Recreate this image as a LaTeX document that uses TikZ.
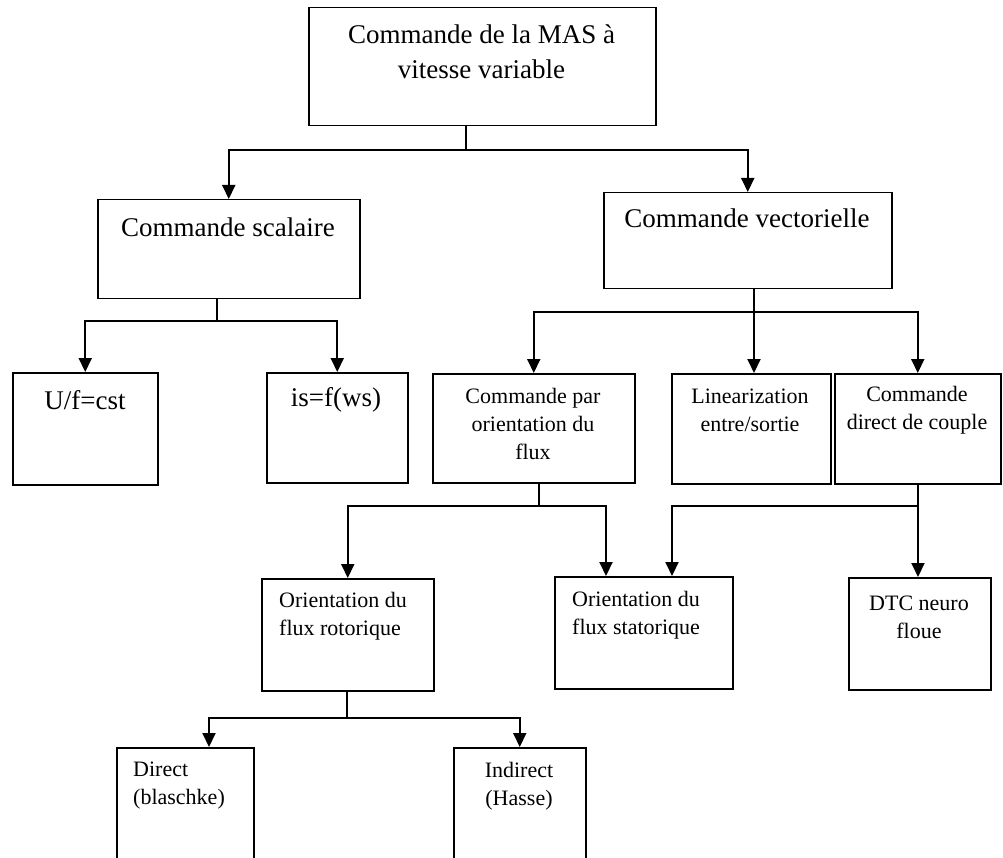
\documentclass[tikz,border=0pt]{standalone}
\usepackage{fontspec}
\setmainfont{Liberation Serif}
\usetikzlibrary{arrows.meta}
\begin{document}
\begin{tikzpicture}[x=1pt,y=-1pt,
  box/.style={draw, line width=1.5pt, inner sep=0pt, anchor=north west},
  big/.style={font=\fontsize{27}{35}\selectfont, align=center, inner sep=0pt},
  mid/.style={font=\fontsize{22}{28}\selectfont, align=center, inner sep=0pt},
  midl/.style={mid, align=left, anchor=west},
  stem/.style={line width=1.3pt},
  arr/.style={line width=2pt, -{Triangle[length=14pt,width=13pt]}}]
\useasboundingbox (0,0) rectangle (1003,858);
\clip (0,0) rectangle (1003,858);

% boxes
\node[box, minimum width=347pt, minimum height=118pt] (top) at (308,7) {};
\node[box, minimum width=262pt, minimum height=99pt] (scal) at (97,199) {};
\node[box, minimum width=288pt, minimum height=96pt] (vect) at (603,192) {};
\node[box, minimum width=145pt, minimum height=112pt] (uf) at (12,372) {};
\node[box, minimum width=141pt, minimum height=110pt] (is) at (266,372) {};
\node[box, minimum width=202pt, minimum height=109pt] (par) at (432,373) {};
\node[box, minimum width=159pt, minimum height=110pt] (lin) at (671,373) {};
\node[box, minimum width=166pt, minimum height=110pt] (dirc) at (834,373) {};
\node[box, minimum width=172pt, minimum height=112pt] (rot) at (261,578) {};
\node[box, minimum width=178pt, minimum height=112pt] (stat) at (554,576) {};
\node[box, minimum width=142pt, minimum height=112pt] (dtc) at (848,577) {};
\node[box, minimum width=137pt, minimum height=125pt] (direct) at (116,747) {};
\node[box, minimum width=132pt, minimum height=125pt] (indirect) at (453,747) {};

% labels
\node[big] (ttop) at (481.5,52) {Commande de la MAS à\\vitesse variable};
\node[big] (tscal) at (228,227) {Commande scalaire};
\node[big] (tvect) at (747,218) {Commande vectorielle};
\node[big] (tuf) at (85,400) {U/f=cst};
\node[big] (tis) at (336,400) {is=f(ws)};
\node[mid] (tpar) at (533,424) {Commande par\\orientation du\\flux};
\node[mid] (tlin) at (750,410) {Linearization\\entre/sortie};
\node[mid] (tdirc) at (917,410) {Commande\\direct de couple};
\node[midl] (trot) at (279,616) {Orientation du\\flux rotorique};
\node[midl] (tstat) at (572,615) {Orientation du\\flux statorique};
\node[mid] (tdtc) at (919,617) {DTC neuro\\floue};
\node[midl] (tdirect) at (133,786) {Direct\\(blaschke)};
\node[mid] (tindirect) at (519,786) {Indirect\\(Hasse)};

% branch points and arrow columns
\coordinate (j1) at (466,150);
\coordinate (j2) at (217,321);
\coordinate (j3) at (754,312);
\coordinate (j4) at (539,506);
\coordinate (j5) at (918,506);
\coordinate (j6) at (347,718);
\coordinate (c1) at (606,0);
\coordinate (c2) at (672,0);
\coordinate (c3) at (209,0);

% connectors
\draw[stem] (top.south -| j1) -- (j1);
\draw[arr] (j1) -| (scal.north);
\draw[arr] (j1) -| (vect.north);

\draw[stem] (scal.south -| j2) -- (j2);
\draw[arr] (j2) -| (uf.north);
\draw[arr] (j2) -| (is.north);

\draw[stem] (vect.south -| j3) -- (j3);
\draw[arr] (j3) -| (par.north);
\draw[arr] (j3) -- (lin.north -| j3);
\draw[arr] (j3) -| (dirc.north);

\draw[stem] (par.south -| j4) -- (j4);
\draw[arr] (j4) -| (rot.north);
\draw[arr] (j4) -| (stat.north -| c1);

\draw[stem] (dirc.south -| j5) -- (j5);
\draw[arr] (j5) -- (dtc.north -| j5);
\draw[arr] (j5) -| (stat.north -| c2);

\draw[stem] (rot.south -| j6) -- (j6);
\draw[arr] (j6) -| (direct.north -| c3);
\draw[arr] (j6) -| (indirect.north);
\end{tikzpicture}
\end{document}
